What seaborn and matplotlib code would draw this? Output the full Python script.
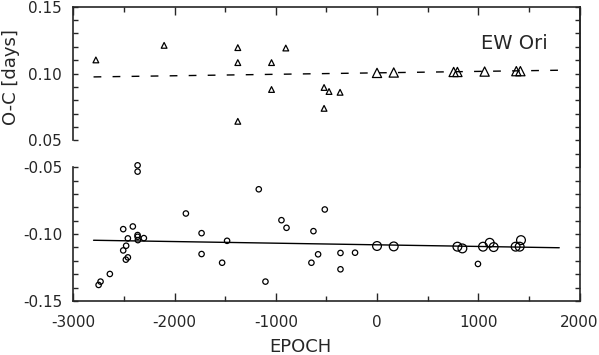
import numpy as np
import pandas as pd
import matplotlib
matplotlib.use("Agg")
import matplotlib.pyplot as plt
from matplotlib.ticker import MultipleLocator, FixedLocator, FormatStrFormatter, NullFormatter
import seaborn as sns

# ---------------- data ----------------
# secondary minima (top panel), small triangles
sec_small_epoch = [-2777, -2103, -1375, -1375, -1375, -1042, -1042, -901, -523, -474, -365, -523]
sec_small_oc = [0.1102, 0.1211, 0.1194, 0.1082, 0.0643, 0.1082, 0.0881, 0.1191, 0.0896, 0.0866, 0.0860, 0.0740]
# secondary minima, large triangles
sec_large_epoch = [0, 165, 757, 794, 1063, 1376, 1416]
sec_large_oc = [0.1005, 0.1008, 0.1012, 0.1012, 0.1015, 0.1018, 0.1018]
# primary minima (bottom panel), small circles
pri_small_epoch = [-2365, -2365, -1888, -2507, -2412, -2461, -2365, -2365, -2362, -2303,
                   -2478, -2507, -2461, -2481, -2639, -2731, -2750, -1733, -1733, -1530,
                   -1481, -1168, -1102, -944, -894, -516, -628, -582, -648, -361,
                   -361, -217, 997]
pri_small_oc = [-0.0486, -0.0533, -0.0846, -0.0963, -0.0943, -0.1032, -0.1007, -0.1020, -0.1045, -0.1030,
                -0.1087, -0.1122, -0.1174, -0.1191, -0.1298, -0.1355, -0.1380, -0.0993, -0.1149, -0.1214,
                -0.1050, -0.0665, -0.1355, -0.0896, -0.0953, -0.0816, -0.0978, -0.1151, -0.1214, -0.1141,
                -0.1263, -0.1139, -0.1223]
# primary minima, large circles
pri_large_epoch = [0, 165, 794, 843, 1047, 1113, 1152, 1369, 1409, 1422]
pri_large_oc = [-0.1089, -0.1092, -0.1094, -0.1107, -0.1094, -0.1065, -0.1097, -0.1094, -0.1094, -0.1045]
# linear fits
fit_epoch = [-2800, 1800]
fit_sec = [0.0975, 0.1025]
fit_pri = [-0.1046, -0.1102]

x_limits = (-3000, 2000)
title_text = "EW Ori"
xlabel_text = "EPOCH"
ylabel_text = "O-C [days]"

# ---------------- style ----------------
sns.set_style("ticks")
plt.rcParams["font.family"] = ["DejaVu Sans"]
plt.rcParams["axes.unicode_minus"] = False
plt.rcParams["axes.linewidth"] = 1.2

W, H = 599, 355
fig = plt.figure(figsize=(W / 100, H / 100), dpi=100)

left = 73.3 / W
width = (579.5 - 73.3) / W
ax_top = fig.add_axes([left, (H - 167.2) / H, width, 160.5 / H])
ax_bot = fig.add_axes([left, (H - 301.0) / H, width, 133.8 / H])

tick_fs = 11

# ---------------- top panel ----------------
sns.scatterplot(x=sec_small_epoch, y=sec_small_oc, ax=ax_top, marker="^", s=17,
                facecolor="none", edgecolor="black", linewidth=0.9, clip_on=False)
sns.scatterplot(x=sec_large_epoch, y=sec_large_oc, ax=ax_top, marker="^", s=44,
                facecolor="none", edgecolor="black", linewidth=0.9, clip_on=False)
sns.lineplot(x=fit_epoch, y=fit_sec, ax=ax_top, color="black", lw=1.0,
             linestyle=(0, (5.6, 8.1)))
ax_top.set_xlim(*x_limits)
ax_top.set_ylim(0.03, 0.15)
ax_top.spines["bottom"].set_visible(False)
ax_top.spines["left"].set_bounds(0.05, 0.15)
ax_top.yaxis.set_major_locator(FixedLocator([0.05, 0.10, 0.15]))
ax_top.yaxis.set_minor_locator(FixedLocator([0.06, 0.07, 0.08, 0.09, 0.11, 0.12, 0.13, 0.14]))
ax_top.yaxis.set_major_formatter(FormatStrFormatter("%.2f"))
ax_top.xaxis.set_major_locator(MultipleLocator(1000))
ax_top.xaxis.set_minor_locator(MultipleLocator(500))
ax_top.tick_params(axis="x", which="both", bottom=False, top=True, labelbottom=False,
                   direction="in")
ax_top.tick_params(axis="x", which="major", length=5.8, width=1.0)
ax_top.tick_params(axis="x", which="minor", length=3.6, width=1.0)
ax_top.tick_params(axis="y", which="both", left=True, right=False, direction="in",
                   length=3.6, width=1.0, labelsize=tick_fs, pad=8)
sec = ax_top.secondary_yaxis("right")
sec.yaxis.set_major_locator(FixedLocator(list(np.round(np.arange(0.04, 0.151, 0.01), 2))))
sec.yaxis.set_major_formatter(NullFormatter())
sec.tick_params(direction="in", length=3.6, width=1.0)
ax_top.text(1354, 0.1226, title_text, ha="center", va="center", fontsize=14)
ax_top.set_xlabel("")
ax_top.set_ylabel("")

# ---------------- bottom panel ----------------
sns.scatterplot(x=pri_small_epoch, y=pri_small_oc, ax=ax_bot, marker="o", s=15,
                facecolor="none", edgecolor="black", linewidth=0.9, clip_on=False)
sns.scatterplot(x=pri_large_epoch, y=pri_large_oc, ax=ax_bot, marker="o", s=40,
                facecolor="none", edgecolor="black", linewidth=0.9, clip_on=False)
sns.lineplot(x=fit_epoch, y=fit_pri, ax=ax_bot, color="black", lw=1.0)
ax_bot.set_xlim(*x_limits)
ax_bot.set_ylim(-0.15, -0.05)
ax_bot.spines["top"].set_visible(False)
ax_bot.yaxis.set_major_locator(MultipleLocator(0.05))
ax_bot.yaxis.set_minor_locator(MultipleLocator(0.01))
ax_bot.yaxis.set_major_formatter(FormatStrFormatter("%.2f"))
ax_bot.xaxis.set_major_locator(MultipleLocator(1000))
ax_bot.xaxis.set_minor_locator(MultipleLocator(500))
ax_bot.tick_params(axis="x", which="both", bottom=True, top=False, direction="in",
                   labelsize=tick_fs, pad=10)
ax_bot.tick_params(axis="x", which="major", length=5.8, width=1.0)
ax_bot.tick_params(axis="x", which="minor", length=3.6, width=1.0)
ax_bot.tick_params(axis="y", which="both", left=True, right=True, direction="in",
                   length=3.6, width=1.0, labelsize=tick_fs, pad=8)
ax_bot.set_xlabel("")
ax_bot.set_ylabel("")

fig.text(300 / W, 1 - 346.5 / H, xlabel_text, ha="center", va="center", fontsize=13)
fig.text(11 / W, 1 - 77 / H, ylabel_text, ha="center", va="center", rotation=90, fontsize=13)

fig.savefig("out.png", dpi=100)
